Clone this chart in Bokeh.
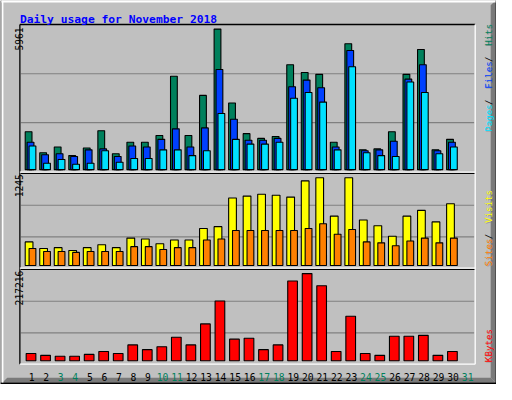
import datetime
from bokeh.plotting import figure
from bokeh.models import Range1d, ColumnDataSource
from bokeh.transform import dodge
from bokeh.core.properties import value
from bokeh.embed import file_html
from bokeh.resources import INLINE

# ---------------- data ----------------
TITLE = "Daily usage for November 2018"
YEAR, MONTH = 2018, 11
DAYS = list(range(1, 32))
DAY_LABELS = [str(d) for d in DAYS]
HITS = [1610, 716, 960, 595, 920, 1650, 676, 1164, 1164, 1447, 3961, 1447, 3150, 5961, 2826,
        1528, 1325, 1407, 4447, 4123, 4042, 1164, 5339, 840, 880, 1610, 4042, 5096, 840, 1285, 0]
FILES = [1164, 635, 676, 555, 840, 880, 555, 1001, 960, 1285, 1731, 960, 1771, 4245, 2137,
         1245, 1245, 1325, 3514, 3799, 3474, 960, 5055, 800, 840, 1204, 3839, 4447, 800, 1164, 0]
PAGES = [1001, 270, 433, 230, 270, 800, 312, 474, 474, 840, 840, 595, 800, 2380, 1285,
         1083, 1083, 1164, 3028, 3271, 2866, 840, 4366, 716, 595, 555, 3717, 3271, 676, 960, 0]
VISITS = [334, 240, 253, 212, 253, 294, 253, 388, 375, 307, 361, 361, 524, 551, 957,
          984, 1011, 997, 970, 1200, 1245, 700, 1245, 645, 564, 415, 700, 781, 618, 876, 0]
SITES = [240, 199, 199, 185, 199, 199, 199, 267, 267, 226, 253, 253, 361, 375, 497,
         497, 497, 497, 497, 524, 591, 443, 510, 334, 321, 280, 348, 388, 321, 388, 0]
KBYTES = [18280, 13530, 11160, 11160, 15900, 23030, 18280, 39640, 27780, 34900, 58640, 39640,
          91870, 148850, 53890, 56260, 27780, 39640, 198700, 217216, 186830, 23030, 110860,
          18280, 13530, 61010, 61010, 63380, 13530, 23030, 0]

# ---------------- style ----------------
BG = "#C0C0C0"
C_HITS, C_FILES, C_PAGES = "#00805C", "#0040FF", "#00E0FF"
C_VISITS, C_SITES, C_KB = "#FFFF00", "#FF8000", "#FF0000"
C_TITLE = "#0000FF"
C_GRID = "#808080"
C_SHADOW = "#7A7A7A"
C_WEEKEND = "#00805C"
MONO = "DejaVu Sans Mono"

# canvas geometry (reference pixel space 512x400, drawn into 496x384)
W, H = 496, 384
RW, RH = 512, 400
X0, STEP = 25.0, 15.0           # left of day-1 slot, slot pitch

p = figure(width=W, height=H, x_range=Range1d(0, RW), y_range=Range1d(RH, 0),
           x_axis_type=None, y_axis_type=None, toolbar_location=None,
           output_backend="svg", min_border=0, background_fill_color=BG,
           border_fill_color=BG, outline_line_color=None)
p.title.visible = False


def d_at(x):
    return 1 + (x - X0) / STEP


p.extra_x_ranges = {"day": Range1d(d_at(0), d_at(RW))}


def yrange(base, height, vmax):
    def v_at(y):
        return (base - y) / height * vmax
    return Range1d(v_at(RH), v_at(0))


MAX_TOP = max(HITS + FILES + PAGES)
MAX_MID = max(VISITS + SITES)
MAX_BOT = max(KBYTES)
p.extra_y_ranges = {
    "top": yrange(176.2, 146.4, MAX_TOP),
    "mid": yrange(276.0, 91.4, MAX_MID),
    "bot": yrange(375.3, 90.8, MAX_BOT),
}

# ---------------- outer frame ----------------
p.patch([506, 511, 511, 506], [5, 0, 398, 393], fill_color=C_SHADOW, line_color=None)
p.patch([2, 7, 506, 511], [398, 393, 393, 398], fill_color=C_SHADOW, line_color=None)
p.quad(left=[0, 0, 511], right=[1, 512, 512], bottom=[400, 400, 400],
       top=[0, 398, 0], fill_color="black", line_color=None)
p.quad(left=[1, 1], right=[511, 3], top=[0, 0], bottom=[2, 398], fill_color="white", line_color=None)

# ---------------- gridlines ----------------
p.multi_line(xs=[[21, 489]] * 6,
             ys=[[76.3, 76.3], [127.3, 127.3], [213.3, 213.3], [246.3, 246.3],
                 [313.3, 313.3], [346.3, 346.3]],
             line_color=C_GRID, line_width=1.2)

# ---------------- panel edges ----------------
p.multi_line(xs=[[20, 490], [20, 20], [21, 490], [21, 490]],
             ys=[[25, 25], [25, 379], [180, 180], [280, 280]],
             line_color="black", line_width=1.3)
p.multi_line(xs=[[20, 490], [20, 490], [20, 490], [490, 490]],
             ys=[[178.8, 178.8], [278.8, 278.8], [378.8, 378.8], [25, 379]],
             line_color="white", line_width=1.3)


# ---------------- bars ----------------
def bars(vals, off, width, color, rname):
    src = ColumnDataSource(dict(day=[d for d, v in zip(DAYS, vals) if v > 0],
                                v=[v for v in vals if v > 0]))
    p.vbar(x=dodge("day", off / STEP), width=width / STEP, bottom=0, top="v", source=src,
           x_range_name="day", y_range_name=rname, fill_color=color,
           line_color="black", line_width=1.1)


bars(HITS, 4.0, 7.0, C_HITS, "top")
bars(FILES, 6.0, 7.0, C_FILES, "top")
bars(PAGES, 8.0, 7.0, C_PAGES, "top")
bars(VISITS, 4.5, 8.0, C_VISITS, "mid")
bars(SITES, 8.0, 7.0, C_SITES, "mid")
bars(KBYTES, 6.5, 10.0, C_KB, "bot")

# ---------------- day labels ----------------
first = datetime.date(YEAR, MONTH, 1)
lab_colors = [C_WEEKEND if (first + datetime.timedelta(days=d - 1)).weekday() >= 5 else "black"
              for d in DAYS]
lab_src = ColumnDataSource(dict(day=DAYS, text=DAY_LABELS, color=lab_colors,
                                y=[392.7] * len(DAYS)))
p.text(x=dodge("day", 7.2 / STEP), y="y", text="text", source=lab_src, x_range_name="day",
       text_color="color", text_font=value(MONO), text_font_size=value("9.7px"),
       text_align="center", text_baseline="alphabetic")

# ---------------- title ----------------
p.text(x=[20], y=[19.4], text=[TITLE], text_color=C_TITLE, text_font=value(MONO),
       text_font_style="bold", text_font_size=value("11.3px"), text_align="left",
       text_baseline="alphabetic")

# ---------------- max labels (rotated) ----------------
ANG = 1.5707963
p.text(x=[19, 19, 19], y=[28, 181, 281.5],
       text=[str(MAX_TOP), str(MAX_MID), str(MAX_BOT)], angle=ANG, text_color="black",
       text_font=value(MONO), text_font_size=value("9.6px"), text_align="right",
       text_baseline="alphabetic")

# ---------------- right legends (rotated) ----------------
ADV = 5.6
LEG_FS = value("9.2px")


def legend(pieces, y_bottom, xr=504):
    k = 0
    xs, ys, ts, cs = [], [], [], []
    for txt, col in pieces:
        xs.append(xr)
        ys.append(y_bottom - k * ADV)
        ts.append(txt)
        cs.append(col)
        k += len(txt)
    p.text(x=[x + 0.8 for x in xs], y=[y + 0.8 for y in ys], text=ts, angle=ANG,
           text_color=C_SHADOW, text_alpha=0.55, text_font=value(MONO), text_font_size=LEG_FS,
           text_align="left", text_baseline="alphabetic")
    p.text(x=xs, y=ys, text=ts, angle=ANG, text_color=cs, text_font=value(MONO),
           text_font_size=LEG_FS, text_align="left", text_baseline="alphabetic")


legend([("Pages", C_PAGES), (" / ", "black"), ("Files", C_FILES), (" / ", "black"),
        ("Hits", C_HITS)], 136.8)
legend([("Sites", C_SITES), (" / ", "black"), ("Visits", C_VISITS)], 276.7)
legend([("KBytes", C_KB)], 376.7)

open("out.html", "w").write(file_html(p, INLINE))
